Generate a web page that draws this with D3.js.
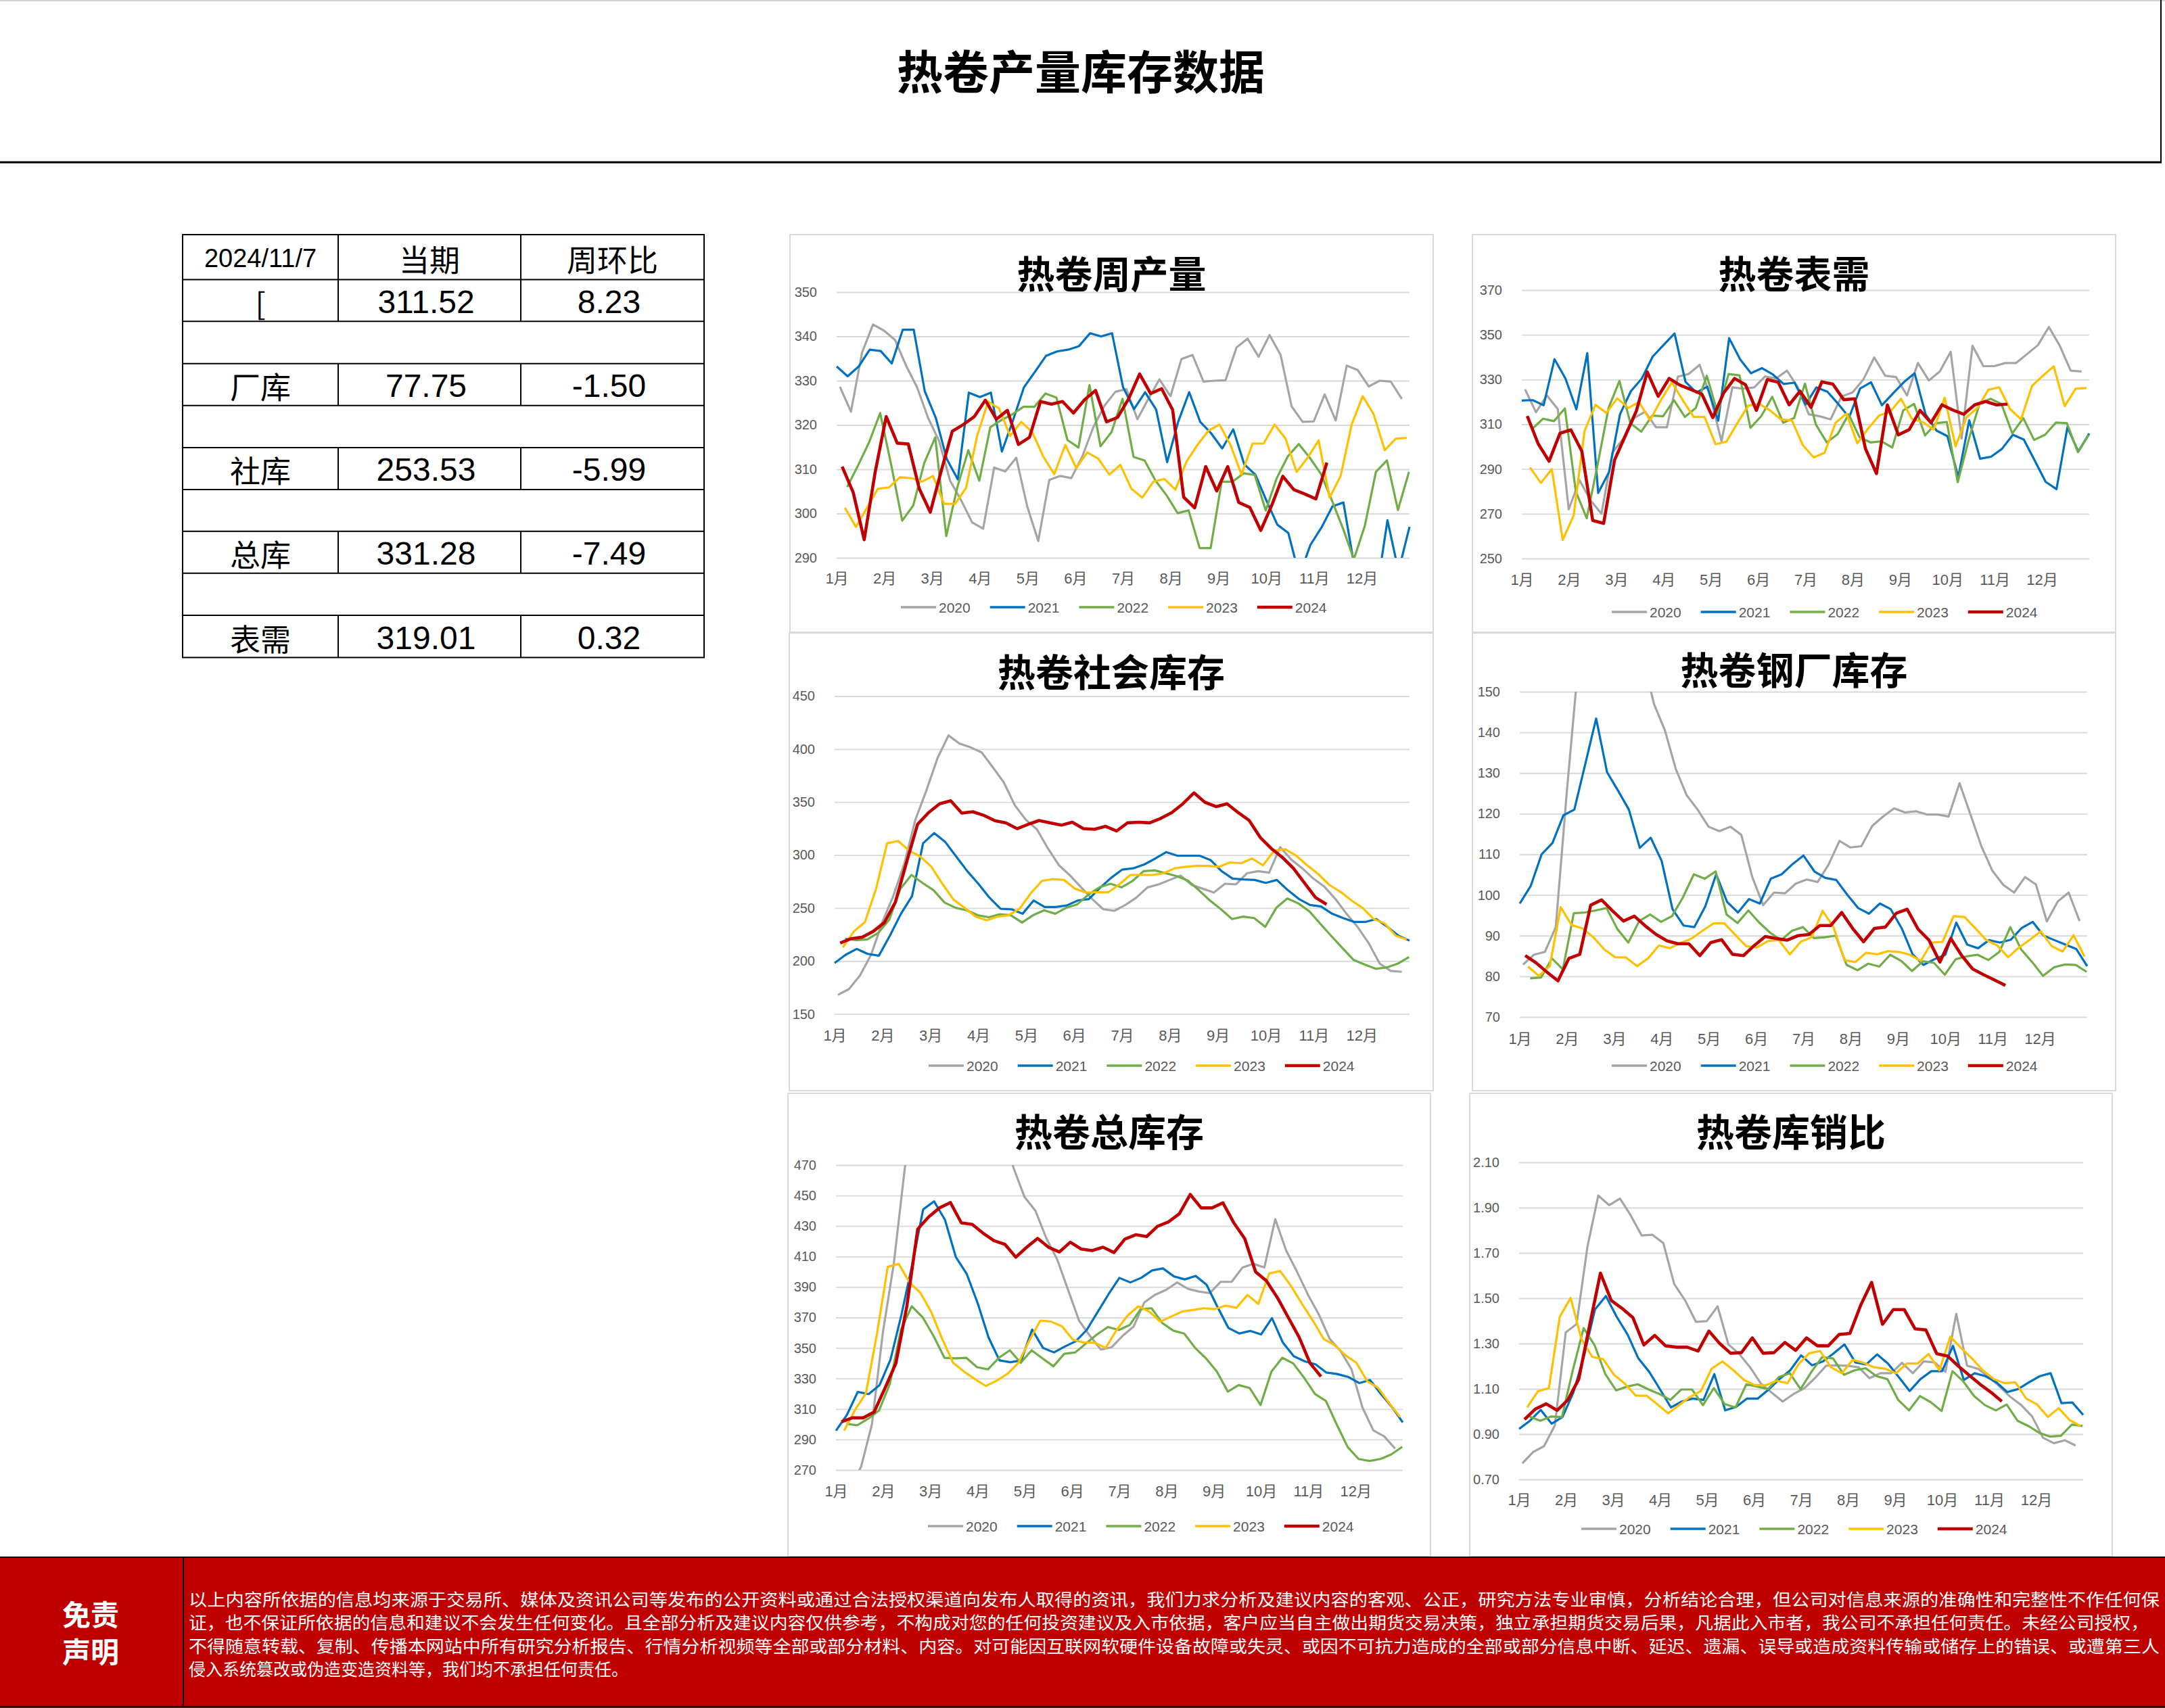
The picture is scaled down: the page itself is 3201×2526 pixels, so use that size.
<!DOCTYPE html>
<meta charset="utf-8">
<style>
  body { margin: 0; background: #fff; }
  svg text { font-family: "Liberation Sans", Arial, "Noto Sans CJK SC", sans-serif; }
  svg .cjk { font-family: "Noto Sans CJK SC", sans-serif; }
</style>
<body>
<svg id="page"></svg>

<script src="https://cdn.jsdelivr.net/npm/d3@7"></script>
<script>

// ---- data ----
var years = ["2020", "2021", "2022", "2023", "2024"];
var yearColors = ["#A5A5A5", "#0070C0", "#70AD47", "#FFC000", "#C00000"];
// week of the first observation of each year
var firstWeek = [0.3, 0, 0.95, 0.75, 0.5];
var months = ["1月","2月","3月","4月","5月","6月","7月","8月","9月","10月","11月","12月"];

// summary table
var tableHeader = ["2024/11/7", "当期", "周环比"];
var tableLabels = ["[", "厂库", "社库", "总库", "表需"];
var tableCurrent = ["311.52", "77.75", "253.53", "331.28", "319.01"];
var tableChange = ["8.23", "-1.50", "-5.99", "-7.49", "0.32"];

// 热卷周产量
var prodTicks = [290, 300, 310, 320, 330, 340, 350];
var prod20 = [328.6,323,336.3,342.7,341.3,339.2,333.4,328.5,321.6,316.4,307.4,303,298,296.6,310.4,309.5,312.6,301.6,293.8,307.6,308.5,308,312.9,319.5,324.3,327.5,328.1,321.3,325.9,330.3,326.5,334.9,335.8,329.8,330,330.1,337.5,339.5,335.4,340.3,335.8,324.2,320.7,320.8,326.9,321,333.4,332.4,328.7,330,329.8,325.9];
var prod21 = [333.2,331,333.2,337,336.7,333.9,341.5,341.5,327.6,321.6,312.3,307.7,327.3,326.3,327.3,314,321,328.5,332,335.6,336.6,337,337.8,340.7,340,340.7,328.5,323.6,327.4,323.5,311.6,320.7,327.4,320.7,318.1,314.7,319,311.1,308.8,303,297.5,295.6,286,292.9,296.8,301.6,302.5,288,282,282,298.5,287,297];
var prod22 = [306,310.9,316.1,322.7,311,298.4,301.8,311.4,317.2,294.9,305.9,314.3,307.4,319.5,321.1,322.4,324.1,324.1,327.1,326.2,316.6,314.9,329,315.2,318.4,325.9,312.8,312,307.4,304.1,300.1,300.7,292.2,292.2,307.2,307.2,309.1,308.7,300.7,308,312.9,315.7,312.6,309,303,296.7,289.7,297.3,309.4,312,300.8,309.4];
var prod23 = [301.3,297,301.3,305.6,305.9,308.2,308,307.2,308.5,302.2,302.2,305.8,317.5,325.3,323.7,317.5,320.7,318.4,312.9,308.9,315.5,310.3,313.8,312.4,308.8,311,305.6,303.6,307.2,307.8,305.4,311.7,315.5,318.7,320.1,315.5,308.8,315.8,315.8,320.1,316.9,309.4,312.6,316.5,303.6,308.5,320.1,326.5,322.4,314.3,316.9,317.1];
var prod24 = [310.6,304.8,294.1,309.4,321.9,315.9,315.7,305.6,300.3,309.7,318.6,320.1,321.9,325.6,321.3,323.3,315.6,317.2,325.3,324.7,325.3,322.7,325.7,327.8,320.7,321.7,325.9,331.5,327.1,328.2,323.4,303.7,301.3,310.6,305.1,310.6,302.5,301.4,296.2,301.9,308.4,305.4,304.4,303.3,311.5];

// 热卷表需
var demandTicks = [250, 270, 290, 310, 330, 350, 370];
var demand20 = [325.6,315.4,322.9,316.8,272,285,276,270,297.3,303.6,312.8,315.6,308.7,308.7,331.3,332.5,336.6,322,302.4,326.5,325.9,326.5,331.4,330.5,334,326.5,314.5,313.6,312.2,322.5,324.2,330,339.9,331.7,331.1,322.9,337.4,329.6,333.6,342.4,303.6,345.1,336,336,337.4,337.4,341.4,345.4,353.5,345.1,334,333.6];
var demand21 = [320.6,320.8,318.5,339.1,330.5,316.7,341.8,279.3,288.7,314.5,324.8,330.5,340.3,345.5,350.6,329,324.2,326.8,311.6,348.5,339.1,332.8,335.1,332.3,328,328.6,318.8,326.5,324.6,319.1,313.1,326,328.8,318.5,323.7,328.8,332.8,314.5,307.2,304.7,286.4,311.8,294.6,295.5,299,305.3,303.2,293.8,284.3,281,308.7,297.8,305.9];
var demand22 = [307.9,312.5,311.4,317.1,280,268,292,317.3,329.4,310.5,306.7,313.9,313.6,320.8,313.3,317.3,331.7,315.1,332.5,331.9,308.4,313.7,322.3,310.7,312.8,328.2,309.9,301.9,305.6,314.5,304.2,301.9,302.4,299.6,316.2,319.1,305,310.5,311,284.1,303,319.3,321.4,319.1,305.9,312.8,303,305.3,310.8,310.5,297.6,305.3];
var demand23 = [290.7,283.8,290,258.3,269.2,307,318.7,315.1,321.6,317.3,319.9,311.8,320.8,328.8,320.8,313.3,313.3,301.1,302.2,310.5,318.3,319.1,316.2,312.2,311.8,300.7,295.2,297.3,310.7,314.8,301.5,308.2,313.9,315.6,321.4,312.4,311,307.6,321.9,300.1,313.1,317.3,325.4,326.5,316.8,312.2,327.1,331.7,335.9,318.1,325.9,326.2];
var demand24 = [313.7,301.3,293.5,306,307.5,298,267,265.7,294,305,316,333.4,322.5,330.5,327.5,325.5,323.5,313,324,330.5,327.7,316.2,330,328.8,318.7,324.8,317.6,329,328,321,321.4,299,288,318.7,305.3,307.6,316.2,310.7,318.7,316.4,314.5,318.7,320.2,318.7,319];

// 热卷社会库存
var socTicks = [150, 200, 250, 300, 350, 400, 450];
var soc20 = [168,173.5,186.5,205.9,236.3,261.2,291.7,333.2,360.9,391.3,412.9,405.2,401.6,396.9,383,368.6,347,333.2,324.3,306.1,290.3,280.6,269.5,258.5,248.8,247.4,252.9,259.9,269.5,272.3,276.5,280.6,271.8,268.2,264.6,272.9,272.3,282.8,284.8,283.4,307.5,295.8,287.5,277.8,270.1,258.5,244.6,232.2,217,197.6,190.7,189.8];
var soc21 = [198.1,205.9,211.4,206.7,205,223.9,244.6,261.2,311.1,320.7,312.4,298.6,284.8,272.9,259.9,249.3,248.8,244.6,257.1,251,251,252.4,257.1,258.5,269,278.4,286.2,287.5,291.1,296.7,302.8,299.4,299.4,299.4,295.3,284.8,277.8,277,276.5,273.7,276.5,266.8,258.5,252.9,251.5,244.6,240.5,236.9,236.9,239.6,232.2,223.9,219.2];
var soc22 = [221.1,219.7,220.3,226.6,239.1,268.2,281.2,273.7,266.8,255.1,250.2,247.9,243.2,241.3,244.1,243.2,236.3,243.2,247.9,244.6,250.2,253.5,262.6,269.5,272.9,269.5,275.6,284.8,285.6,282.8,280.1,275.9,266.8,257.1,248.8,239.6,241.9,240.5,232.2,250.2,259,254.3,246.8,234.9,223.3,212,200.9,196.7,192.6,194,197.6,203.7];
var soc23 = [212.8,228,236.9,268.2,311.1,313.3,304.1,298.6,288.9,272.9,258,250.2,241.9,238.5,241.9,243.2,249.6,264,275.6,277.3,276.5,268.2,264.6,264.8,264.8,272.3,281.2,281.2,281.2,282.8,287.5,288.9,289.7,289.7,288.9,293,292.2,296.7,290.3,304.1,305.5,299.4,290.3,282,271.8,265.4,257.1,250.2,239.6,235.5,223.9,220.3];
var soc24 = [217,221.1,222.5,228,236.3,255.7,293,329,340.1,348.4,351.2,339.6,340.9,337.4,332.4,330.4,324.9,329,332.6,330.4,328.2,331,324.9,324.3,327.1,322.7,330.4,331,330.4,334.6,340.1,348.4,358.7,349.8,345.7,348.4,340.1,332.6,316.6,306.1,297.8,287.5,273.7,259.9,253.5];

// 热卷钢厂库存
var millTicks = [70, 80, 90, 100, 110, 120, 130, 140, 150];
var mill20 = [82.9,85.3,86,92.1,125,155,178,188,192,190,180,158,147,140.5,131,124.5,121,116.8,115.7,116.8,114.8,104.5,97.5,100.6,100.4,102.8,103.8,103.2,107.5,113.3,111.7,112,117,119.3,121.3,120.3,120.6,119.8,119.8,119.3,127.5,119.8,112,106,102.5,100.6,104.4,102.6,93.5,98.4,100.6,93.6];
var mill21 = [97.9,102.2,110,112.8,119.6,121,132.2,143.4,130.2,125.7,121,111.6,114.1,108.4,96.5,92.5,92.1,97.2,105.1,98.3,95.7,99,97.9,104,105.1,107.6,109.7,105.8,104.2,103.7,100.1,96.8,95.4,97.9,96.5,91.8,85.4,82.8,84.2,85.3,93.2,87.8,86.9,88.9,88.3,89,91.9,93.4,90,88.9,87.8,86.7,82.5];
var mill22 = [79.5,79.7,84.4,81.7,95.5,95.7,96.2,96.8,91.6,88.3,93.6,95.2,93.4,94.8,99.4,105.1,104,105.8,95.2,93.1,96.2,93.2,90.7,88.9,91.2,92.1,89.4,89.6,90,82.8,81.5,83.1,82.4,85.3,83.8,81.3,83.7,83.3,80.4,84.2,84.9,85.3,84,86,92.1,86.6,83.5,80.1,82.2,82.9,82.8,81.1];
var mill23 = [82.4,80.1,82.5,97,92.6,91.8,89.6,86.6,84.7,84.6,82.5,84.4,87.6,86.9,88.2,89.3,91.2,93,93,90.2,87.4,87.1,88.7,88.9,85.4,88.5,89.6,96.1,92.1,84,83.5,85.8,85.4,86.2,86,85.3,83.8,88.3,88.5,94.8,94.6,91.8,88.9,87.6,84.7,87.1,89,91.1,87.4,86.1,90.1,84.9];
var mill24 = [85.1,83.3,81,78.9,84.4,85.4,97.5,98.8,96.1,93.6,94.8,92.4,90.3,88.7,88,88,85.1,88.3,89,85.4,85.1,87.6,89.8,89.3,88.9,90,90.3,92.5,92.5,95.7,91.8,88.5,91.8,92.1,95.5,96.5,91.6,88.9,83.5,89.3,85.1,81.8,80.4,79.1,77.75];

// 热卷总库存
var totTicks = [270, 290, 310, 330, 350, 370, 390, 410, 430, 450, 470];
var tot20 = [251,259,272,300,360,405,467,521,553,581,593,563,549,537,514,493,468,449,440,422,408,388,368,358,349,350.5,358,364,380,385,388.2,393,388.8,387,386,393.4,393.4,402.8,405.2,402.8,434.5,414,400,385,372,356,348,336,311,296,292,284];
var tot21 = [295.8,306.1,321.2,319.8,325.7,342.3,371.6,404.8,440.9,446.2,434.1,409.6,398.5,379.4,356.9,341.9,340.7,341.9,362.1,350,347.1,351,354.4,361.8,373.5,385.2,396,393,396,400.9,402.2,397,395,397.3,391.5,377,363.2,359.5,361.2,358.9,369.6,353.6,344.6,341.3,339.3,333.9,332.9,331,327,329,319.8,311.4,301.2];
var tot22 = [300.3,299.3,303.6,309,326.6,361.8,377.4,370.2,357.9,343.6,343.2,343.6,337.4,336,343.6,348.5,340.3,348.5,343.2,338,346.2,347.1,353,358.9,363.8,361.8,365.1,375.5,376.1,366.3,361.4,359.5,350.1,343.2,334.5,321.4,325.7,323.8,312.6,334.5,343.6,339.9,330.5,319.8,315.3,299.7,285,277.2,275.9,277.2,280.2,285.2];
var tot23 = [295.8,309.4,320.4,358.9,403.2,405.2,393,386.2,373.5,355.9,340.3,334.5,329.6,325.1,328.6,333.1,340.3,355,368,367.3,364.1,355.4,353.6,353.4,350.1,361.8,371.2,377.4,373.9,367.3,370.6,373.9,374.9,376.1,375.5,377.8,376.4,384.8,379,398.9,400.5,390.7,379,368,355.9,352,345.2,340.3,328.1,323.8,313.9,304.8];
var tot24 = [301.6,304.2,304.2,308,323.7,340,377.4,428,436,441.9,445.4,432.1,431.1,425.3,420.4,418,409.6,416.1,421.9,416.1,413,419.4,414.9,413.9,416.1,412.6,421.4,424.3,423.1,429.8,432.7,438,450.7,441.9,441.9,445.2,432.1,421.8,399.9,394,383,370,357,340,331.3];

// 热卷库销比
var ratioTicks = [0.7, 0.9, 1.1, 1.3, 1.5, 1.7, 1.9, 2.1];
var ratio20 = [0.771,0.821,0.847,0.939,1.349,1.386,1.727,1.953,1.911,1.94,1.865,1.777,1.78,1.743,1.563,1.491,1.396,1.399,1.464,1.296,1.254,1.195,1.123,1.083,1.044,1.077,1.103,1.149,1.202,1.204,1.202,1.195,1.147,1.169,1.169,1.215,1.169,1.221,1.217,1.175,1.431,1.202,1.189,1.152,1.11,1.064,1.028,0.978,0.884,0.86,0.873,0.85];
var ratio21 = [0.923,0.959,1.007,0.946,0.976,1.083,1.248,1.451,1.51,1.418,1.34,1.234,1.175,1.097,1.018,1.044,1.057,1.051,1.165,1.005,1.02,1.057,1.057,1.097,1.143,1.182,1.248,1.204,1.221,1.257,1.296,1.217,1.208,1.252,1.212,1.152,1.09,1.143,1.178,1.178,1.29,1.139,1.169,1.156,1.129,1.086,1.099,1.129,1.156,1.169,1.037,1.04,0.985];
var ratio22 = [0.978,0.959,0.978,0.976,1.182,1.368,1.294,1.165,1.093,1.11,1.12,1.097,1.077,1.051,1.097,1.097,1.028,1.103,1.033,1.018,1.12,1.11,1.099,1.152,1.169,1.099,1.175,1.241,1.234,1.162,1.182,1.191,1.156,1.143,1.051,1.005,1.068,1.041,1.002,1.178,1.133,1.068,1.028,1.005,1.031,0.959,0.936,0.906,0.889,0.893,0.942,0.936];
var ratio23 = [1.018,1.09,1.103,1.418,1.501,1.32,1.241,1.231,1.162,1.123,1.07,1.07,1.031,0.992,1.028,1.064,1.09,1.189,1.221,1.182,1.139,1.116,1.116,1.136,1.125,1.208,1.257,1.267,1.195,1.169,1.228,1.215,1.195,1.189,1.169,1.212,1.212,1.254,1.182,1.33,1.28,1.234,1.182,1.143,1.125,1.129,1.057,1.031,0.976,1.015,0.962,0.936];
var ratio24 = [0.965,1.011,1.034,1.005,1.051,1.143,1.38,1.611,1.49,1.455,1.414,1.294,1.336,1.29,1.284,1.284,1.267,1.355,1.3,1.257,1.26,1.325,1.257,1.26,1.305,1.27,1.325,1.29,1.29,1.34,1.345,1.47,1.57,1.385,1.45,1.45,1.365,1.36,1.255,1.245,1.2,1.16,1.12,1.085,1.045];

var disclaimerLines = [
  "以上内容所依据的信息均来源于交易所、媒体及资讯公司等发布的公开资料或通过合法授权渠道向发布人取得的资讯，我们力求分析及建议内容的客观、公正，研究方法专业审慎，分析结论合理，但公司对信息来源的准确性和完整性不作任何保",
  "证，也不保证所依据的信息和建议不会发生任何变化。且全部分析及建议内容仅供参考，不构成对您的任何投资建议及入市依据，客户应当自主做出期货交易决策，独立承担期货交易后果，凡据此入市者，我公司不承担任何责任。未经公司授权，",
  "不得随意转载、复制、传播本网站中所有研究分析报告、行情分析视频等全部或部分材料、内容。对可能因互联网软硬件设备故障或失灵、或因不可抗力造成的全部或部分信息中断、延迟、遗漏、误导或造成资料传输或储存上的错误、或遭第三人",
  "侵入系统篡改或伪造变造资料等，我们均不承担任何责任。"
];

// ---- page ----
var W = 3201, H = 2526;
var svg = d3.select("#page").attr("width", W).attr("height", H);
svg.append("rect").attr("width", W).attr("height", H).attr("fill", "#fff");

// header
svg.append("line").attr("x1", 0).attr("x2", W).attr("y1", 1).attr("y2", 1)
    .attr("stroke", "#d0d0d0").attr("stroke-width", 2);
svg.append("line").attr("x1", 0).attr("x2", 3196).attr("y1", 240).attr("y2", 240)
    .attr("stroke", "#000").attr("stroke-width", 3);
svg.append("line").attr("x1", 3195).attr("x2", 3195).attr("y1", 0).attr("y2", 240)
    .attr("stroke", "#000").attr("stroke-width", 2);
svg.append("text").attr("class", "cjk")
    .attr("x", 1598).attr("y", 102)
    .attr("text-anchor", "middle").attr("dominant-baseline", "central")
    .style("font-size", "68px").style("font-weight", "bold")
    .text("热卷产量库存数据");

// summary table
var colX = [270, 500, 770, 1041];
var rowY = [347, 413.5, 475.2, 537.7, 599.8, 661.9, 724, 785.7, 847.8, 909.9, 972.4];
var table = svg.append("g");
table.append("rect").attr("x", colX[0]).attr("y", rowY[0])
    .attr("width", colX[3] - colX[0]).attr("height", rowY[10] - rowY[0])
    .attr("fill", "none").attr("stroke", "#000").attr("stroke-width", 2);
rowY.slice(1, 10).forEach(function (yy) {
  table.append("line").attr("x1", colX[0]).attr("x2", colX[3]).attr("y1", yy).attr("y2", yy)
      .attr("stroke", "#000").attr("stroke-width", 2);
});
// column dividers only on filled rows (header + every other row)
[0, 1, 3, 5, 7, 9].forEach(function (r) {
  [colX[1], colX[2]].forEach(function (xx) {
    table.append("line").attr("x1", xx).attr("x2", xx).attr("y1", rowY[r]).attr("y2", rowY[r + 1])
        .attr("stroke", "#000").attr("stroke-width", 2);
  });
});
function cellText(col, row, txt, cls, size, dx) {
  table.append("text").attr("class", cls)
      .attr("x", (colX[col] + colX[col + 1]) / 2 + (dx || 0))
      .attr("y", (rowY[row] + rowY[row + 1]) / 2 + 2)
      .attr("text-anchor", "middle").attr("dominant-baseline", "central")
      .style("font-size", size + "px")
      .text(txt);
}
cellText(0, 0, tableHeader[0], "", 38);
cellText(1, 0, tableHeader[1], "cjk", 45);
cellText(2, 0, tableHeader[2], "cjk", 45);
tableLabels.forEach(function (lab, i) {
  var r = 1 + i * 2;
  cellText(0, r, lab, "cjk", 45);
  cellText(1, r, tableCurrent[i], "", 48, -5);
  cellText(2, r, tableChange[i], "", 48, -5);
});

// ---- the six charts ----
var charts = [
  { title: "热卷周产量", series: [prod20, prod21, prod22, prod23, prod24], ticks: prodTicks, fmt: d3.format("d"),
    box: [1168, 347, 2119, 935], plot: [1237, 432, 2084, 825], titleY: 401, monthY: 855, legendX: 1332, legendY: 898 },
  { title: "热卷表需", series: [demand20, demand21, demand22, demand23, demand24], ticks: demandTicks, fmt: d3.format("d"),
    box: [2177, 347, 3128, 935], plot: [2250, 429, 3089, 826], titleY: 401, monthY: 857, legendX: 2383, legendY: 905 },
  { title: "热卷社会库存", series: [soc20, soc21, soc22, soc23, soc24], ticks: socTicks, fmt: d3.format("d"),
    box: [1167, 936, 2119, 1613], plot: [1234, 1029.5, 2084, 1499.6], titleY: 990, monthY: 1531, legendX: 1373, legendY: 1576 },
  { title: "热卷钢厂库存", series: [mill20, mill21, mill22, mill23, mill24], ticks: millTicks, fmt: d3.format("d"),
    box: [2177, 936, 3128, 1613], plot: [2247, 1023, 3086, 1504], titleY: 987, monthY: 1536, legendX: 2383, legendY: 1576 },
  { title: "热卷总库存", series: [tot20, tot21, tot22, tot23, tot24], ticks: totTicks, fmt: d3.format("d"),
    box: [1165, 1617, 2115, 2302], plot: [1236, 1723, 2074, 2174], titleY: 1670, monthY: 2205, legendX: 1372, legendY: 2257 },
  { title: "热卷库销比", series: [ratio20, ratio21, ratio22, ratio23, ratio24], ticks: ratioTicks, fmt: d3.format(".2f"),
    box: [2173, 1617, 3123, 2302], plot: [2246, 1719, 3080, 2188], titleY: 1670, monthY: 2218, legendX: 2338, legendY: 2261 }
];

charts.forEach(function (c, ci) {
  var g = svg.append("g");
  g.append("rect")
      .attr("x", c.box[0]).attr("y", c.box[1])
      .attr("width", c.box[2] - c.box[0]).attr("height", c.box[3] - c.box[1])
      .attr("fill", "#fff").attr("stroke", "#d9d9d9").attr("stroke-width", 2);

  var x = d3.scaleLinear().domain([0, 52]).range([c.plot[0], c.plot[2]]);
  var y = d3.scaleLinear().domain(d3.extent(c.ticks)).range([c.plot[3], c.plot[1]]);

  // horizontal gridlines + value labels
  var yAxis = d3.axisLeft(y).tickValues(c.ticks).tickFormat(c.fmt)
      .tickSize(-(c.plot[2] - c.plot[0])).tickPadding(29);
  var ya = g.append("g").attr("transform", "translate(" + c.plot[0] + ",0)").call(yAxis);
  ya.select(".domain").remove();
  ya.selectAll("line").attr("stroke", "#d9d9d9").attr("stroke-width", 1.8);
  ya.selectAll("text").attr("fill", "#595959").style("font-size", "20px")
      .style("font-family", "'Liberation Sans', Arial, sans-serif");

  // month labels
  var monthPos = months.map(function (m, i) { return i * 52 / 12; });
  var xAxis = d3.axisBottom(x).tickValues(monthPos)
      .tickFormat(function (d, i) { return months[i]; }).tickSize(0);
  var xa = g.append("g").attr("transform", "translate(0," + c.plot[3] + ")").call(xAxis);
  xa.select(".domain").remove();
  xa.selectAll("text").attr("y", c.monthY - c.plot[3]).attr("dy", "0.35em")
      .attr("fill", "#595959").style("font-size", "22px")
      .style("font-family", "'Liberation Sans', 'Noto Sans CJK SC', sans-serif");

  // clip lines to the plot area like the spreadsheet does
  var clipId = "clip" + ci;
  g.append("clipPath").attr("id", clipId).append("rect")
      .attr("x", c.plot[0] - 6).attr("y", c.plot[1])
      .attr("width", c.plot[2] - c.plot[0] + 12).attr("height", c.plot[3] - c.plot[1]);

  var lines = g.append("g").attr("clip-path", "url(#" + clipId + ")");
  c.series.forEach(function (vals, k) {
    var line = d3.line()
        .defined(function (d) { return d != null; })
        .x(function (d, i) { return x(firstWeek[k] + i); })
        .y(function (d) { return y(d); });
    lines.append("path")
        .datum(vals)
        .attr("d", line)
        .attr("fill", "none")
        .attr("stroke", yearColors[k])
        .attr("stroke-width", k === 4 ? 4.6 : 3.2)
        .attr("stroke-linejoin", "round");
  });

  // legend
  years.forEach(function (yr, k) {
    var lx = c.legendX + k * 131.7;
    g.append("line").attr("x1", lx).attr("x2", lx + 52)
        .attr("y1", c.legendY).attr("y2", c.legendY)
        .attr("stroke", yearColors[k]).attr("stroke-width", k === 4 ? 4.6 : 3.4);
    g.append("text").attr("x", lx + 56).attr("y", c.legendY)
        .attr("dominant-baseline", "central")
        .attr("fill", "#595959").style("font-size", "21px")
        .text(yr);
  });

  // chart title
  g.append("text").attr("class", "cjk")
      .attr("x", (c.box[0] + c.box[2]) / 2).attr("y", c.titleY)
      .attr("text-anchor", "middle").attr("dominant-baseline", "central")
      .style("font-size", "56px").style("font-weight", "bold")
      .text(c.title);
});

// ---- disclaimer bar ----
var foot = svg.append("g");
foot.append("rect").attr("x", 0).attr("y", 2303).attr("width", W).attr("height", H - 2303)
    .attr("fill", "#C00000");
foot.append("line").attr("x1", 0).attr("x2", W).attr("y1", 2303).attr("y2", 2303)
    .attr("stroke", "#000").attr("stroke-width", 2);
foot.append("line").attr("x1", 0).attr("x2", W).attr("y1", 2524).attr("y2", 2524)
    .attr("stroke", "#000").attr("stroke-width", 2);
foot.append("line").attr("x1", 271).attr("x2", 271).attr("y1", 2303).attr("y2", 2525)
    .attr("stroke", "#000").attr("stroke-width", 2);
var label = foot.append("text").attr("class", "cjk")
    .attr("text-anchor", "middle")
    .attr("fill", "#fff").style("font-size", "42px").style("font-weight", "bold");
["免责", "声明"].forEach(function (t, i) {
  label.append("tspan").attr("x", 134).attr("y", 2404 + i * 55).text(t);
});
disclaimerLines.forEach(function (t, i) {
  var tx = foot.append("text").attr("class", "cjk")
      .attr("x", 279).attr("y", 2364 + i * 34.3)
      .attr("dominant-baseline", "central")
      .attr("fill", "#fff").style("font-size", "25px")
      .text(t);
  if (i < 3) tx.attr("textLength", i === 1 ? 2898 : 2914).attr("lengthAdjust", "spacingAndGlyphs");
});

</script>
</body>
